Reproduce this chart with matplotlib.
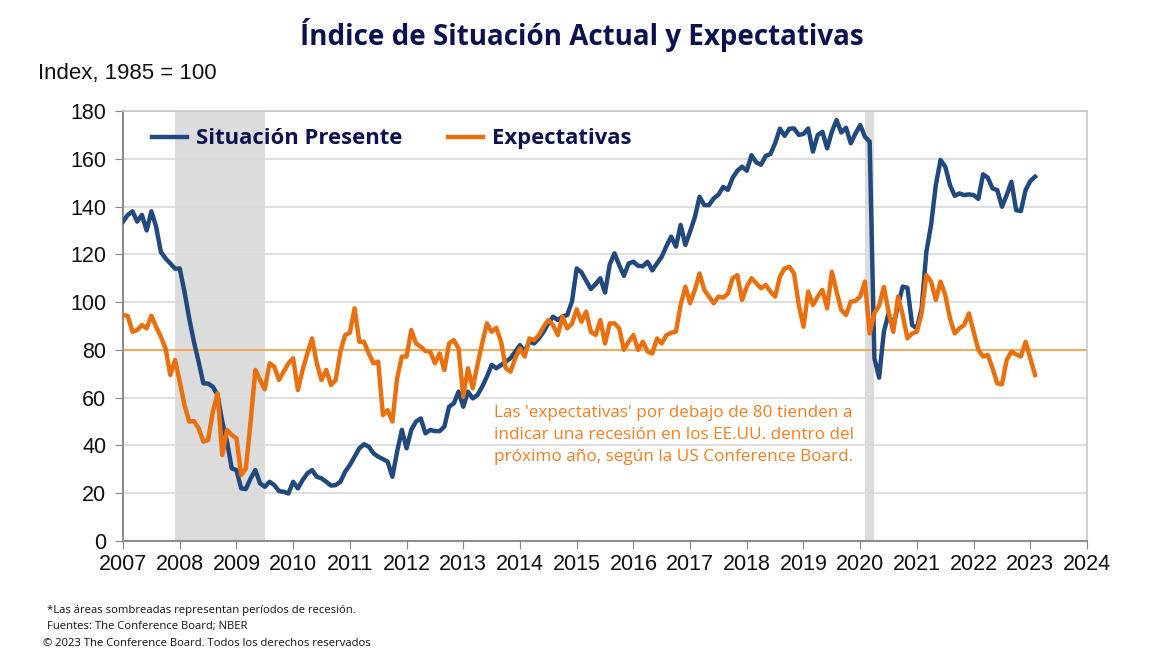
import numpy as np
import matplotlib
matplotlib.use("Agg")
import matplotlib.pyplot as plt

# monthly data, Jan 2007 - Feb 2023 (Index, 1985 = 100)
situacion_presente = [
    # 2007
    133.7, 136.5, 138.0, 133.7, 136.5, 130.0, 138.0, 131.6, 121.0, 118.3, 116.2, 114.0,
    # 2008
    114.1, 104.4, 93.2, 83.4, 75.0, 66.0, 65.9, 64.6, 61.1, 50.0, 41.6, 30.4,
    # 2009
    29.7, 22.0, 21.8, 26.2, 29.7, 24.1, 22.7, 24.8, 23.4, 20.9, 20.6, 19.9,
    # 2010
    24.8, 22.0, 25.5, 28.3, 29.7, 26.9, 26.2, 24.8, 23.2, 23.4, 24.8, 29.0,
    # 2011
    31.8, 35.3, 38.8, 40.5, 39.5, 36.7, 35.3, 34.3, 33.2, 26.9, 37.4, 46.5,
    # 2012
    38.8, 46.5, 50.0, 51.3, 45.1, 46.5, 46.0, 46.0, 47.9, 56.2, 57.6, 62.5,
    # 2013
    56.2, 62.5, 59.7, 61.1, 64.6, 68.8, 73.7, 72.3, 73.7, 75.1, 76.5, 79.3,
    # 2014
    82.0, 79.3, 83.4, 82.7, 84.8, 87.6, 91.1, 93.9, 92.5, 93.9, 94.6, 100.2,
    # 2015
    114.1, 112.5, 109.0, 105.5, 107.5, 110.0, 104.0, 115.8, 120.4, 115.5, 111.0, 116.2,
    # 2016
    116.9, 115.2, 115.0, 116.9, 113.3, 116.2, 119.0, 123.5, 127.4, 123.2, 132.3, 123.9,
    # 2017
    129.5, 135.5, 144.1, 140.6, 140.6, 143.4, 145.0, 148.2, 147.0, 152.0, 155.0, 156.7,
    # 2018
    155.0, 161.5, 158.5, 157.5, 161.2, 162.0, 166.5, 172.6, 169.6, 172.6, 172.7, 170.0,
    # 2019
    170.4, 172.7, 163.0, 169.9, 171.3, 164.4, 171.3, 176.2, 171.0, 173.0, 166.5, 170.6,
    # 2020
    174.1, 169.2, 167.2, 76.5, 68.4, 87.5, 95.3, 89.7, 98.8, 106.5, 106.0, 90.4,
    # 2021
    89.0, 97.4, 121.1, 132.3, 149.0, 159.5, 156.7, 149.0, 144.5, 145.5, 144.8, 145.1,
    # 2022
    144.8, 143.2, 153.5, 152.1, 147.6, 146.9, 139.9, 144.8, 150.4, 138.5, 138.1, 146.9,
    # 2023
    150.7, 152.5,
]

expectativas = [
    # 2007
    94.6, 94.2, 87.6, 88.3, 90.4, 89.0, 94.3, 89.7, 85.5, 80.6, 69.5, 75.8,
    # 2008
    66.7, 57.0, 50.0, 50.2, 47.2, 41.6, 42.3, 54.1, 61.8, 36.0, 46.5, 44.4,
    # 2009
    43.0, 27.6, 30.4, 50.0, 71.6, 67.4, 63.5, 74.4, 73.0, 67.4, 70.9, 74.4,
    # 2010
    76.5, 63.2, 71.6, 78.5, 84.8, 74.4, 67.4, 71.6, 65.3, 67.4, 79.3, 86.2,
    # 2011
    87.2, 97.4, 83.4, 83.4, 78.5, 74.4, 75.1, 52.7, 54.8, 50.0, 68.1, 77.2,
    # 2012
    77.2, 88.3, 82.7, 81.3, 79.5, 79.3, 74.4, 78.5, 71.6, 82.7, 84.1, 80.6,
    # 2013
    60.4, 72.3, 63.9, 73.7, 82.7, 91.1, 87.6, 89.3, 83.4, 72.3, 70.9, 76.5,
    # 2014
    80.6, 77.2, 84.8, 84.1, 86.2, 89.7, 92.5, 90.4, 86.2, 93.9, 89.0, 91.0,
    # 2015
    97.0, 91.8, 96.0, 87.6, 86.2, 92.5, 82.7, 91.1, 91.1, 89.0, 80.0, 83.4,
    # 2016
    86.2, 80.0, 83.4, 79.3, 78.5, 84.8, 82.7, 86.2, 87.2, 87.6, 98.8, 106.5,
    # 2017
    99.5, 105.1, 112.0, 105.1, 102.3, 99.5, 102.3, 101.9, 103.5, 110.0, 111.3, 100.9,
    # 2018
    106.5, 110.0, 107.9, 105.8, 107.2, 104.4, 102.3, 110.6, 114.1, 114.8, 112.0, 98.8,
    # 2019
    89.7, 104.4, 98.8, 102.3, 105.1, 97.4, 112.7, 104.4, 96.7, 94.6, 100.2, 100.5,
    # 2020
    102.3, 108.6, 86.9, 95.3, 98.5, 106.3, 96.0, 87.6, 102.3, 94.6, 84.8, 86.9,
    # 2021
    87.6, 95.3, 111.3, 108.6, 100.9, 108.6, 103.0, 93.2, 86.9, 89.0, 90.4, 95.3,
    # 2022
    87.6, 80.0, 77.2, 77.9, 72.3, 66.0, 65.6, 75.8, 79.3, 78.1, 77.2, 83.4,
    # 2023
    76.5, 69.5,
]

# NBER recessions (decimal years)
recesiones = [(2007 + 11 / 12, 2009.5), (2020 + 1 / 12, 2020.25)]
umbral = 80

fechas = 2007 + np.arange(len(situacion_presente)) / 12

azul = "#21497d"
naranja = "#e8700f"
navy = "#0c1250"

fig = plt.figure(figsize=(11.52, 6.58), dpi=100)
ax = fig.add_axes([0.1068, 0.1778, 0.8368, 0.6535])

for ini, fin in recesiones:
    ax.axvspan(ini, fin, color="#dcdcdc", lw=0, zorder=0)

ax.axhline(umbral, color="#f9a54a", lw=1.3, zorder=2)
ax.plot(fechas, situacion_presente, color=azul, lw=3.2, label="Situación Presente",
        zorder=3, solid_joinstyle="round")
ax.plot(fechas, expectativas, color=naranja, lw=3.2, label="Expectativas",
        zorder=4, solid_joinstyle="round")

ax.set_xlim(2007, 2024)
ax.set_ylim(0, 180)
ax.set_xticks(range(2007, 2025))
ax.set_yticks(range(0, 181, 20))
ax.grid(axis="y", color="#d9d9d9", lw=1.2, zorder=1)
ax.set_axisbelow(True)

for lbl in ax.get_xticklabels() + ax.get_yticklabels():
    lbl.set_fontfamily("Liberation Sans")
    lbl.set_fontsize(15.5)
    lbl.set_color("#111111")
ax.tick_params(axis="x", direction="out", length=6, color="#888888", pad=3)
ax.tick_params(axis="y", direction="out", length=6, color="#888888", pad=6)
for s in ["left", "bottom"]:
    ax.spines[s].set_color("#8c8c8c")
    ax.spines[s].set_linewidth(1.5)
for s in ["top", "right"]:
    ax.spines[s].set_color("#c8c8c8")
    ax.spines[s].set_linewidth(1.2)

leg = ax.legend(loc="center left", bbox_to_anchor=(0.03, 0.935), ncol=2,
                frameon=False, borderpad=0, borderaxespad=0, handlelength=1.6,
                handletextpad=0.4, columnspacing=2.1,
                prop={"family": "Open Sans", "weight": "bold", "size": 15.8})
for t in leg.get_texts():
    t.set_color(navy)

ax.text(2016.71, 44.4,
        "Las 'expectativas' por debajo de 80 tienden a\n"
        "indicar una recesión en los EE.UU. dentro del\n"
        "próximo año, según la US Conference Board.",
        ha="center", va="center", multialignment="center", color="#f07f22",
        fontsize=12.3, family="Open Sans", linespacing=1.5, zorder=5)

fig.text(0.505, 0.947, "Índice de Situación Actual y Expectativas", ha="center",
         va="center", fontsize=20, fontweight="bold", family="Open Sans", color=navy)
fig.text(0.033, 0.888, "Index, 1985 = 100", ha="left", va="center", fontsize=16,
         family="Liberation Sans", color="#111111")

notas = [
    (0.041, 610, "*Las áreas sombreadas representan períodos de recesión."),
    (0.041, 627, "Fuentes: The Conference Board; NBER"),
    (0.037, 643, "© 2023 The Conference Board. Todos los derechos reservados"),
]
for x, y, txt in notas:
    fig.text(x, 1 - y / 658, txt, ha="left", va="center", fontsize=8.1,
             family="Open Sans", color="#111111")

fig.savefig("out.png", dpi=100)
